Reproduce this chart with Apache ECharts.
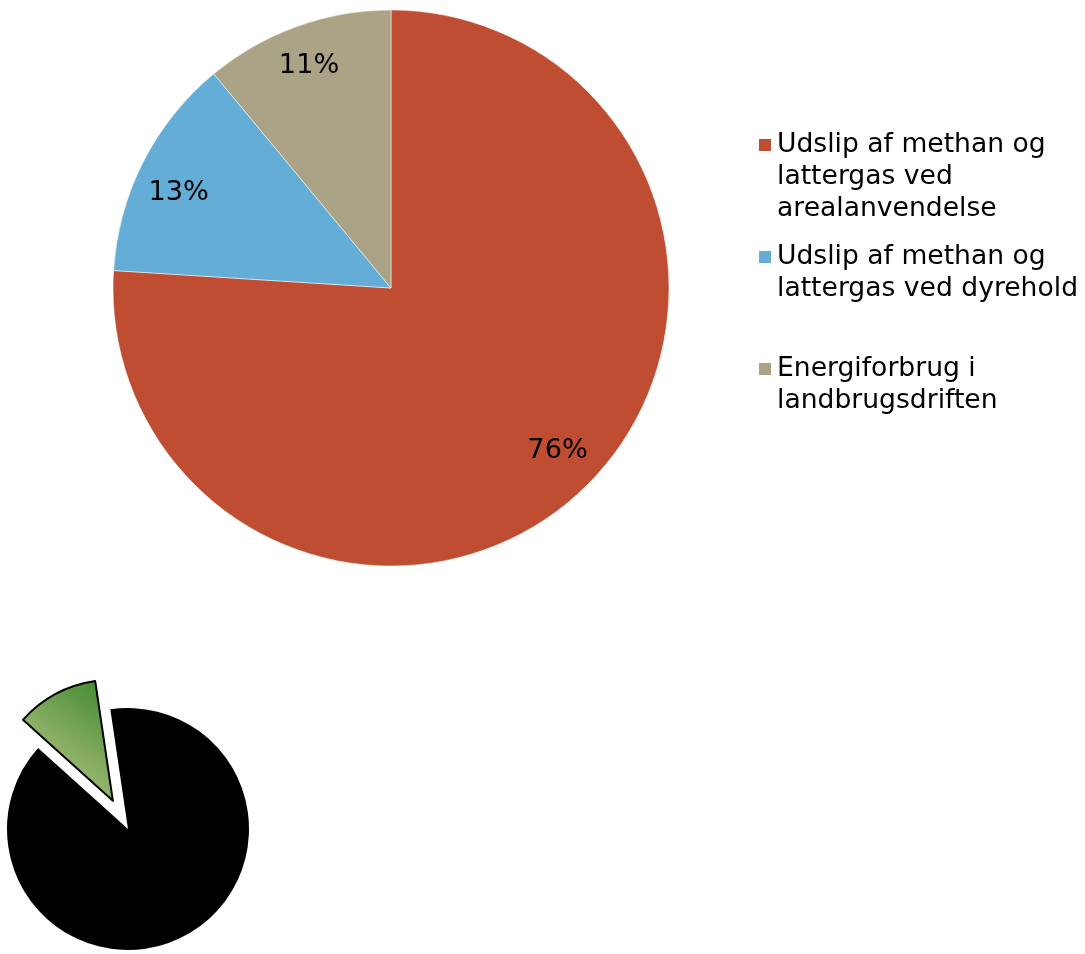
<!DOCTYPE html>
<html>
<head>
<meta charset="utf-8">
<script src="https://cdn.jsdelivr.net/npm/echarts@6/dist/echarts.min.js"></script>
<style>
  html, body { margin: 0; padding: 0; background: #fff; }
  #chart { width: 1085px; height: 954px; }
</style>
</head>
<body>
<div id="chart"></div>
<script>
// Emission shares in agriculture (percent)
const categories = [
  'Udslip af methan og\nlattergas ved\narealanvendelse',
  'Udslip af methan og\nlattergas ved dyrehold',
  'Energiforbrug i\nlandbrugsdriften'
];
const shares = [76, 13, 11];
const colors = ['#BE4D31', '#63ADD6', '#AAA386'];

// Small icon pie: highlighted part vs rest
const iconNames = ['Andel', 'Rest'];
const iconValues = [11, 89];

const FONT = '"DejaVu Sans", Verdana, sans-serif';
const LINE = 32;
// small nudges for the percentage labels
const labelNudge = [[5, -9], [-2, 12], [-2, 0]];

// Pad every legend entry to five lines so that its first line sits on the icon
function legendText(name) {
  const lines = name.split('\n');
  const above = ['', ''];
  const below = [];
  while (above.length + lines.length + below.length < 5) below.push(' ');
  return above.concat(lines, below).join('\n');
}

const mainData = categories.map((name, i) => ({
  name: name, value: shares[i], itemStyle: { color: colors[i] }
}));

const chart = echarts.init(document.getElementById('chart'), null, { renderer: 'canvas' });

chart.setOption({
  animation: false,
  backgroundColor: '#fff',
  legend: {
    orient: 'vertical',
    left: 757,
    top: 65,
    padding: 0,
    itemWidth: 14,
    itemHeight: 14,
    itemGap: 112 - 5 * LINE,
    icon: 'rect',
    data: categories,
    selectedMode: false,
    formatter: legendText,
    textStyle: { fontFamily: FONT, fontSize: 26.6, lineHeight: LINE, color: '#000' }
  },
  series: [
    {
      type: 'pie',
      center: [391, 288],
      radius: [0, 278],
      startAngle: 90,
      clockwise: true,
      silent: true,
      label: { show: false },
      labelLine: { show: false },
      itemStyle: { borderColor: '#ffffff', borderWidth: 0.5 },
      emphasis: { disabled: true },
      data: mainData
    },
    {
      // label ring: places the percentages near the outer edge
      type: 'pie',
      center: [391, 288],
      radius: [188, 278],
      startAngle: 90,
      clockwise: true,
      silent: true,
      itemStyle: { color: 'rgba(0,0,0,0)' },
      label: {
        show: true,
        position: 'inside',
        formatter: p => p.value + '%',
        fontFamily: FONT,
        fontSize: 27.2,
        color: '#000'
      },
      labelLine: { show: false },
      emphasis: { disabled: true },
      data: categories.map((name, i) => ({
        name: name, value: shares[i], label: { offset: labelNudge[i] }
      }))
    },
    {
      type: 'pie',
      center: [128, 829],
      radius: [0, 121],
      startAngle: 138,
      clockwise: true,
      silent: true,
      selectedMode: 'single',
      selectedOffset: 32,
      label: { show: false },
      labelLine: { show: false },
      emphasis: { disabled: true },
      data: [
        {
          name: iconNames[0],
          value: iconValues[0],
          selected: true,
          itemStyle: {
            borderColor: '#000',
            borderWidth: 2,
            color: new echarts.graphic.LinearGradient(1, 0, 0, 1, [
              { offset: 0, color: '#3A862A' },
              { offset: 0.5, color: '#84AB60' },
              { offset: 1, color: '#B8CF8E' }
            ])
          }
        },
        { name: iconNames[1], value: iconValues[1], itemStyle: { color: '#000' } }
      ]
    }
  ]
});
</script>
</body>
</html>
